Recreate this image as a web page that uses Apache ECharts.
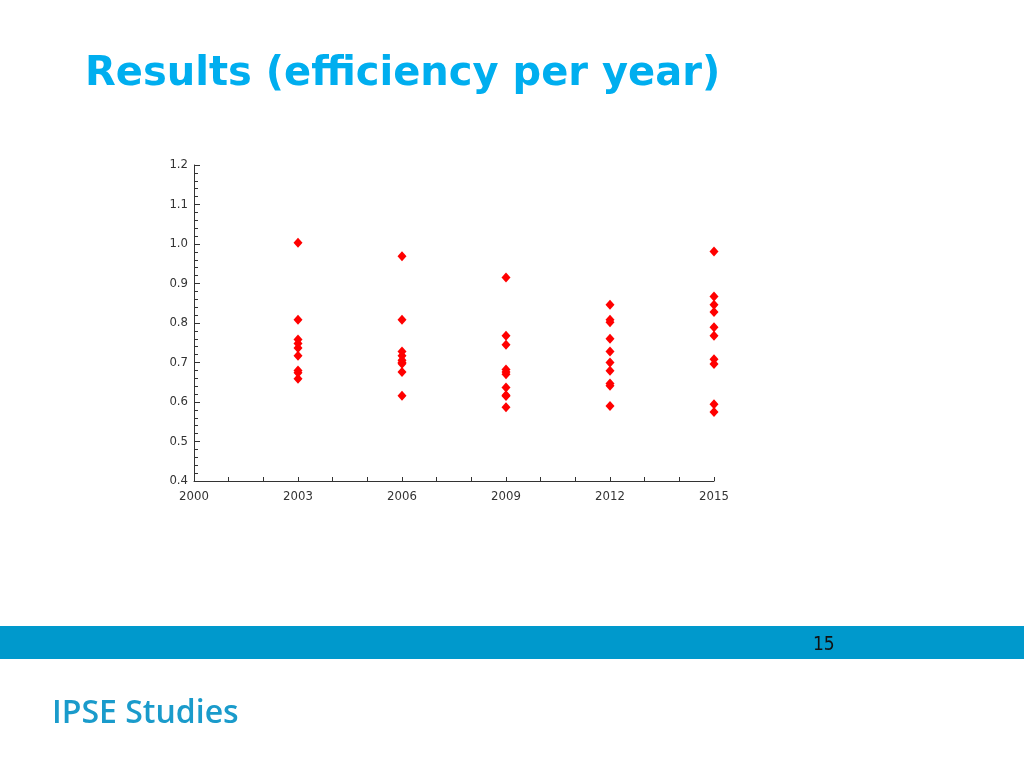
<!DOCTYPE html>
<html>
<head>
<meta charset="utf-8">
<script src="https://cdn.jsdelivr.net/npm/echarts@6/dist/echarts.min.js"></script>
<style>
html,body{margin:0;padding:0;background:#fff;}
#chart{width:1024px;height:768px;}
</style>
</head>
<body>
<div id="chart"></div>
<script>
var titleText = 'Results (efficiency per year)';
var footerText = 'IPSE Studies';
var pageNumber = '15';
var years = [2003, 2006, 2009, 2012, 2015];
var eff2003 = [1.003, 0.808, 0.758, 0.748, 0.737, 0.717, 0.680, 0.674, 0.659];
var eff2006 = [0.969, 0.808, 0.728, 0.717, 0.706, 0.700, 0.697, 0.676, 0.616];
var eff2009 = [0.915, 0.768, 0.745, 0.682, 0.676, 0.670, 0.637, 0.617, 0.615, 0.587];
var eff2012 = [0.846, 0.808, 0.802, 0.760, 0.728, 0.700, 0.679, 0.647, 0.641, 0.590];
var eff2015 = [0.981, 0.867, 0.846, 0.828, 0.789, 0.768, 0.708, 0.696, 0.594, 0.575];
var yTickLabels = ['0.4','0.5','0.6','0.7','0.8','0.9','1.0','1.1','1.2'];

var groups = [eff2003, eff2006, eff2009, eff2012, eff2015];
var points = [];
groups.forEach(function(arr, i){
  arr.forEach(function(v){ points.push([years[i], v]); });
});

var chart = echarts.init(document.getElementById('chart'));
var axisColor = '#333';
chart.setOption({
  animation: false,
  backgroundColor: '#fff',
  title: {
    text: titleText,
    left: 80, top: 50,
    textStyle: {fontFamily: 'DejaVu Sans', fontWeight: 'bold', fontSize: 40, color: '#00AEEF'}
  },
  grid: {left: 194, right: 310, top: 165, bottom: 287},
  xAxis: {
    type: 'value', min: 2000, max: 2015, interval: 3,
    axisLine: {onZero: false, lineStyle: {color: axisColor, width: 1}},
    axisTick: {show: true, inside: true, length: 4, lineStyle: {color: axisColor}},
    minorTick: {show: true, splitNumber: 3, length: 4, lineStyle: {color: axisColor}},
    splitLine: {show: false},
    axisLabel: {fontFamily: 'DejaVu Sans Condensed', fontSize: 13, color: '#333', margin: 9, formatter: function(v){return String(v);}}
  },
  yAxis: {
    type: 'value', min: 0.4, max: 1.2, interval: 0.1,
    axisLine: {show: true, lineStyle: {color: axisColor, width: 1}},
    axisTick: {show: true, inside: true, length: 6, lineStyle: {color: axisColor}},
    minorTick: {show: true, splitNumber: 5, length: 4, lineStyle: {color: axisColor}},
    splitLine: {show: false},
    axisLabel: {fontFamily: 'DejaVu Sans Condensed', fontSize: 13, color: '#333', margin: 6,
      formatter: function(v){ var i = Math.round((v - 0.4) * 10); return yTickLabels[i]; }}
  },
  series: [{
    type: 'scatter',
    data: points,
    symbol: 'diamond',
    symbolSize: [9, 10],
    itemStyle: {color: '#FF0000', opacity: 1}
  }],
  graphic: [
    {type: 'rect', left: 0, top: 626, shape: {width: 1024, height: 33}, style: {fill: '#0099CC'}, silent: true},
    {type: 'text', left: 813, top: 636, style: {text: pageNumber, fontFamily: '"Liberation Sans Narrow", "DejaVu Sans Condensed"', fontSize: 19, fill: '#111'}},
    {type: 'text', left: 52, top: 698, style: {text: footerText, fontFamily: 'Open Sans', fontWeight: 600, fontSize: 32, fill: '#1A9BCB'}}
  ]
});
</script>
</body>
</html>
